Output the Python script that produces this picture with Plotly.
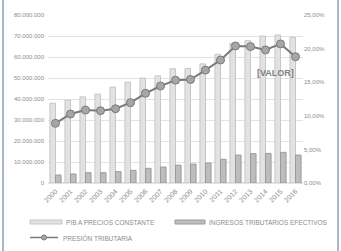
import plotly.graph_objects as go

years = list(range(2000, 2017))
pib = [38.0e6, 39.5e6, 41.0e6, 42.3e6, 45.7e6, 48.0e6, 50.0e6, 51.0e6, 54.4e6,
       54.6e6, 56.7e6, 61.3e6, 66.5e6, 67.8e6, 70.0e6, 70.5e6, 69.4e6]
ingresos = [3.8e6, 4.3e6, 4.9e6, 4.9e6, 5.4e6, 6.0e6, 7.0e6, 7.6e6, 8.5e6,
            9.0e6, 9.5e6, 11.3e6, 13.3e6, 14.0e6, 14.1e6, 14.6e6, 13.3e6]
presion = [0.0888, 0.1027, 0.1086, 0.1076, 0.1105, 0.1195, 0.1335, 0.1443, 0.1530,
           0.1540, 0.1680, 0.1830, 0.2040, 0.2030, 0.1980, 0.2070, 0.1880]

left_ticks = [0, 10e6, 20e6, 30e6, 40e6, 50e6, 60e6, 70e6, 80e6]
right_ticks = [0, 0.05, 0.10, 0.15, 0.20, 0.25]
names = ["PIB A PRECIOS CONSTANTE", "INGRESOS TRIBUTARIOS EFECTIVOS", "PRESIÓN TRIBUTARIA"]

grey = "#8c8c8c"
pib_fill, pib_line = "#e2e2e2", "#c6c6c6"
ing_fill, ing_line = "#bdbdbd", "#9a9a9a"
ln_color, mk_fill = "#7a7a7a", "#a6a6a6"

fig = go.Figure()
fig.add_trace(go.Bar(x=years, y=pib, name=names[0],
                     marker=dict(color=pib_fill, line=dict(color=pib_line, width=1))))
fig.add_trace(go.Bar(x=years, y=ingresos, name=names[1],
                     marker=dict(color=ing_fill, line=dict(color=ing_line, width=1))))
fig.add_trace(go.Scatter(x=years, y=presion, name=names[2], yaxis="y2",
                         mode="lines+markers",
                         line=dict(color=ln_color, width=2),
                         marker=dict(color=mk_fill, size=8, line=dict(color=ln_color, width=1))))

fig.add_annotation(x=years[-1], y=presion[-1], xref="x", yref="y2", text="<b>[VALOR]</b>",
                   showarrow=False, xanchor="right", yanchor="middle", xshift=0, yshift=-16,
                   font=dict(family="Liberation Sans", size=9, color="#808080"))

L, R, T, B = 48, 303, 15, 183
def px(p):
    return (p - L) / (R - L)
def py(p):
    return (B - p) / (B - T)

# chart border
for xp in (3, 338):
    fig.add_shape(type="line", xref="paper", yref="paper", x0=px(xp), x1=px(xp), y0=-1, y1=2,
                  line=dict(color="#aab6ca", width=2))

# manual legend
fig.add_shape(type="rect", xref="paper", yref="paper", x0=px(30), x1=px(62), y0=py(224), y1=py(220),
              fillcolor=pib_fill, line=dict(color=pib_line, width=1))
fig.add_shape(type="rect", xref="paper", yref="paper", x0=px(175), x1=px(205), y0=py(224), y1=py(220),
              fillcolor=ing_fill, line=dict(color=ing_line, width=1))
fig.add_shape(type="line", xref="paper", yref="paper", x0=px(30), x1=px(58), y0=py(237.5), y1=py(237.5),
              line=dict(color=ln_color, width=1.5))
fig.add_shape(type="circle", xref="paper", yref="paper", x0=px(41.5), x1=px(46.5), y0=py(240), y1=py(235),
              fillcolor=mk_fill, line=dict(color=ln_color, width=1))
for (tx, ty), name in zip([(64, 222), (207, 222), (61, 237.5)], names):
    fig.add_annotation(xref="paper", yref="paper", x=px(tx), y=py(ty), text=name, showarrow=False,
                       xanchor="left", yanchor="middle",
                       font=dict(family="Liberation Sans", size=6.5, color=grey))

fig.update_layout(
    width=341, height=251,
    margin=dict(l=L, r=341 - R, t=T, b=251 - B, autoexpand=False),
    paper_bgcolor="white", plot_bgcolor="white",
    separators=",.",
    barmode="group", bargap=0.26, bargroupgap=0,
    font=dict(family="Liberation Sans", size=6, color=grey),
    showlegend=False,
    xaxis=dict(range=[1999.5, 2016.5], tickvals=years, tickangle=-45,
               tickfont=dict(size=7, color=grey), ticklabelstandoff=2,
               showline=False, ticks="", showgrid=False, zeroline=False),
    yaxis=dict(range=[0, 80e6], tickvals=left_ticks, tickformat=",.0f",
               showgrid=True, gridcolor="#e3e3e3", gridwidth=1, zeroline=True,
               zerolinecolor="#e3e3e3", tickfont=dict(size=6, color=grey), ticks="",
               showline=False, ticklabelstandoff=3),
    yaxis2=dict(range=[0, 0.25], tickvals=right_ticks, tickformat=".2%", overlaying="y",
                side="right", showgrid=False, zeroline=False,
                tickfont=dict(size=6, color=grey), ticks="", showline=False),
)

fig.write_html("out.html")
